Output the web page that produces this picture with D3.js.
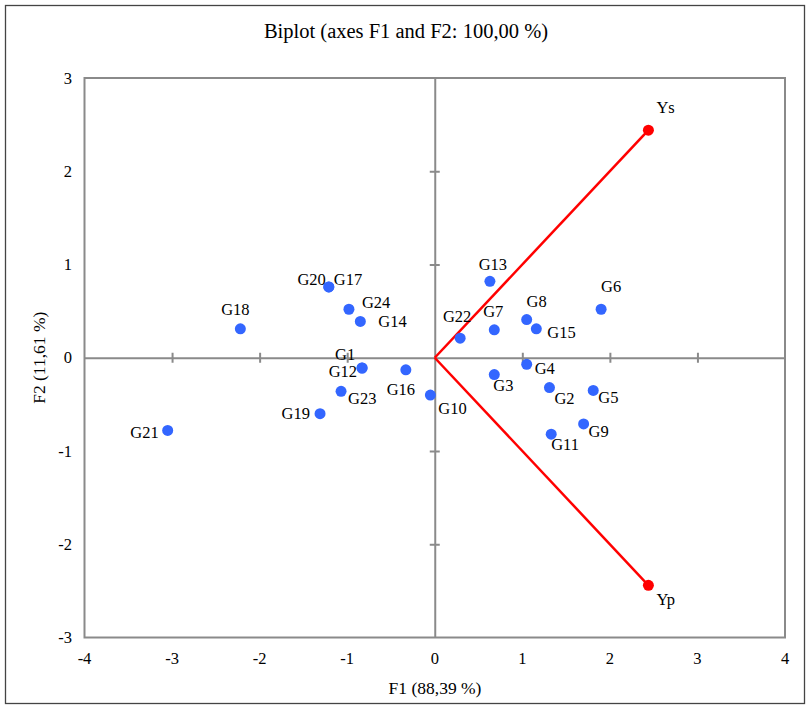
<!DOCTYPE html>
<html><head><meta charset="utf-8">
<script src="https://cdn.jsdelivr.net/npm/d3@7/dist/d3.min.js"></script>
<style>body{margin:0;background:#fff}svg{display:block}text{font-family:"Liberation Serif","Times New Roman",serif;fill:#000}</style>
</head><body><svg id="c" width="806" height="705"></svg>
<script>
const names = ["G1","G2","G3","G4","G5","G6","G7","G8","G9","G10","G11","G12","G13","G14","G15","G16","G17","G18","G19","G20","G21","G22","G23","G24"];
const f1 = [-0.83,1.31,0.68,1.05,1.81,1.90,0.68,1.05,1.70,-0.05,1.33,-0.83,0.63,-0.85,1.16,-0.33,-1.21,-2.22,-1.31,-1.21,-3.05,0.29,-1.07,-0.98];
const f2 = [-0.11,-0.32,-0.18,-0.07,-0.35,0.52,0.30,0.41,-0.71,-0.40,-0.82,-0.11,0.82,0.39,0.31,-0.13,0.76,0.31,-0.60,0.76,-0.78,0.21,-0.36,0.52];
// label placement: [anchor, dx, dy]
const labelPos = {
 G1:["middle",-17,-8], G2:["start",5,16], G3:["start",-1,16], G4:["start",8,10], G5:["start",5,13],
 G6:["middle",10,-17], G7:["middle",-1,-13], G8:["middle",10,-13], G9:["start",5,13], G10:["start",8,19],
 G11:["start",0,16], G12:["end",-5,9], G13:["middle",3,-11], G14:["start",18,6], G15:["start",11,9],
 G16:["middle",-5,25], G17:["start",5,-2], G18:["middle",-5,-14], G19:["end",-10,5], G20:["end",-3,-2],
 G21:["end",-9,8], G22:["middle",-3,-16], G23:["start",7,13], G24:["start",13,-1]
};
const varNames = ["Ys","Yp"];
const varF1 = [2.44,2.44];
const varF2 = [2.44,-2.44];
const varLab = {Ys:["start",8,-17], Yp:["start",8,20]};
const xTicks = [-4,-3,-2,-1,0,1,2,3,4];
const yTicks = [-3,-2,-1,0,1,2,3];

const svg = d3.select("#c");
const x = d3.scaleLinear().domain([-4,4]).range([84.5,785]);
const y = d3.scaleLinear().domain([-3,3]).range([637.5,78]);
const gray = "#8a8a8a";

svg.append("rect").attr("x",5.5).attr("y",5.5).attr("width",799).attr("height",698)
  .attr("fill","none").attr("stroke","#444").attr("stroke-width",1.3);

svg.append("text").attr("x",406).attr("y",38).attr("text-anchor","middle")
  .style("font-size","20.5px").text("Biplot (axes F1 and F2: 100,00 %)");

// plot frame
svg.append("rect").attr("x",x(-4)).attr("y",y(3)).attr("width",x(4)-x(-4)).attr("height",y(-3)-y(3))
  .attr("fill","none").attr("stroke",gray).attr("stroke-width",2);

// zero lines with cross ticks
const xAxis = d3.axisBottom(x).tickValues(xTicks.filter(d=>d!==-4&&d!==4&&d!==0)).tickSizeInner(5).tickSizeOuter(0).tickFormat("");
const gx = svg.append("g").attr("transform",`translate(0,${y(0)})`).call(xAxis);
gx.select(".domain").attr("stroke",gray).attr("stroke-width",2);
gx.selectAll(".tick line").attr("stroke",gray).attr("stroke-width",2).attr("y1",-5).attr("y2",5);
const yAxis = d3.axisLeft(y).tickValues(yTicks.filter(d=>d!==-3&&d!==3&&d!==0)).tickSizeInner(5).tickSizeOuter(0).tickFormat("");
const gy = svg.append("g").attr("transform",`translate(${x(0)},0)`).call(yAxis);
gy.select(".domain").attr("stroke",gray).attr("stroke-width",2);
gy.selectAll(".tick line").attr("stroke",gray).attr("stroke-width",2).attr("x1",-5).attr("x2",5);

// tick labels
svg.append("g").selectAll("text").data(xTicks).join("text")
  .attr("x",d=>x(d)).attr("y",664).attr("text-anchor","middle").style("font-size","16.5px").text(d=>d);
svg.append("g").selectAll("text").data(yTicks).join("text")
  .attr("x",72).attr("y",d=>y(d)+5.5).attr("text-anchor","end").style("font-size","16.5px").text(d=>d);

svg.append("text").attr("x",435).attr("y",694).attr("text-anchor","middle").style("font-size","17.5px").text("F1 (88,39 %)");
svg.append("text").attr("transform",`translate(45,${y(0)}) rotate(-90)`).attr("text-anchor","middle")
  .style("font-size","17.5px").text("F2 (11,61 %)");

// variable vectors
const vars = varNames.map((n,i)=>({n, a:varF1[i], b:varF2[i]}));
svg.append("g").selectAll("line").data(vars).join("line")
  .attr("x1",x(0)).attr("y1",y(0)).attr("x2",d=>x(d.a)).attr("y2",d=>y(d.b))
  .attr("stroke","#ff0000").attr("stroke-width",2.5);
svg.append("g").selectAll("circle").data(vars).join("circle")
  .attr("cx",d=>x(d.a)).attr("cy",d=>y(d.b)).attr("r",5.5).attr("fill","#ff0000");
svg.append("g").selectAll("text").data(vars).join("text")
  .attr("x",d=>x(d.a)+varLab[d.n][1]).attr("y",d=>y(d.b)+varLab[d.n][2])
  .attr("text-anchor",d=>varLab[d.n][0]).style("font-size","16.5px").text(d=>d.n);

// observations
const obs = names.map((n,i)=>({n, a:f1[i], b:f2[i]}));
svg.append("g").selectAll("circle").data(obs).join("circle")
  .attr("cx",d=>x(d.a)).attr("cy",d=>y(d.b)).attr("r",5.5).attr("fill","#3366ff");
svg.append("g").selectAll("text").data(obs).join("text")
  .attr("x",d=>x(d.a)+labelPos[d.n][1]).attr("y",d=>y(d.b)+labelPos[d.n][2])
  .attr("text-anchor",d=>labelPos[d.n][0]).style("font-size","16.5px").text(d=>d.n);
</script></body></html>
